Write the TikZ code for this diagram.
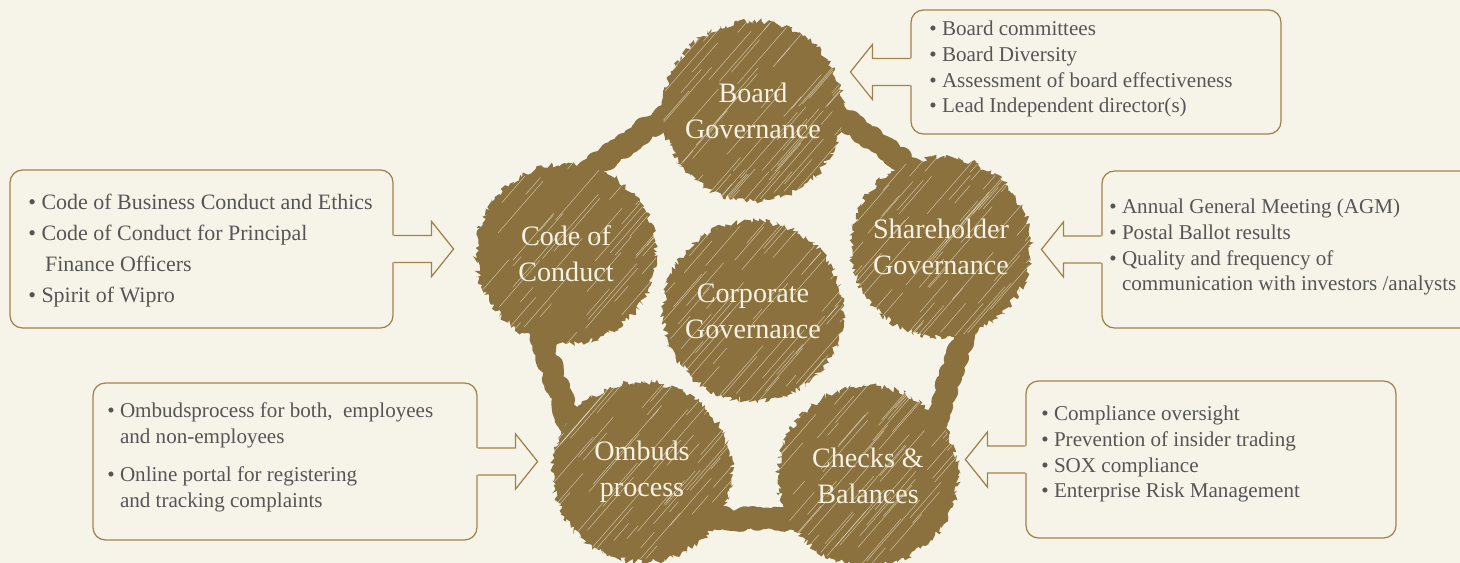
\documentclass[tikz,border=0pt]{standalone}
\usepackage{fontspec}
\setmainfont{Liberation Serif}
\usetikzlibrary{decorations.pathmorphing,calc}

\definecolor{bgcream}{RGB}{246,244,232}
\definecolor{hubbrown}{RGB}{139,113,62}
\definecolor{streakcol}{RGB}{232,222,198}
\definecolor{boxline}{RGB}{160,130,75}
\definecolor{txtgray}{RGB}{85,85,85}
\definecolor{labelcream}{RGB}{248,243,228}

% hanging indent for wrapped bullet lines
\newcommand{\hang}{\phantom{•\ }}
% hollow block arrow leaving a box: #1 anchor, #2 direction (1 right, -1 left)
\newcommand{\boxarrow}[2]{%
  \begin{scope}[shift={(#1)}, xscale=#2]
    \fill[bgcream] (-1.5,-13.5) -- (38,-13.5) -- (38,-27.5) -- (60,0) -- (38,27.5) -- (38,13.5) -- (-1.5,13.5) -- cycle;
    \draw[arrowline] (0,-13.5) -- (38,-13.5) -- (38,-27.5) -- (60,0) -- (38,27.5) -- (38,13.5) -- (0,13.5);
  \end{scope}}

\begin{document}
\begin{tikzpicture}[
    x=0.02cm, y=-0.02cm,
    hub/.style={circle, fill=hubbrown, minimum size=3.6cm, inner sep=0pt, align=center,
      text=labelcream, font=\fontsize{16}{20.4}\selectfont,
      decorate, decoration={random steps, segment length=1.2pt, amplitude=1.8pt}},
    band/.style={draw=hubbrown, line width=11.5pt, line join=round,
      decorate, decoration={random steps, segment length=1.5pt, amplitude=1.8pt}},
    streak/.style={draw=streakcol, line width=0.3pt, opacity=0.7},
    listbox/.style={draw=boxline, line width=0.7pt, rounded corners=7pt, inner sep=0pt},
    listtxt/.style={anchor=north west, align=left, inner sep=0pt, text=txtgray,
      font=\fontsize{12}{14.7}\selectfont},
    arrowline/.style={draw=boxline, line width=0.7pt, line join=miter}
  ]

  % --- canvas ---
  \useasboundingbox (0,0) rectangle (1460,563);
  \fill[bgcream] (0,0) rectangle (1460,563);

  % --- pentagon ring behind the hubs ---
  \coordinate (ring) at (752,310);
  \foreach \a/\n in {-90/v1, -18/v2, 54/v3, 126/v4, 198/v5} {
    \coordinate (\n) at ($(ring)+(\a:258)$);
  }
  \draw[band] (v1) -- (v2) -- (v3) -- (v4) -- (v5) -- cycle;

  % --- hubs ---
  \node[hub] (board)  at (753,111) {Board\\Governance};
  \node[hub] (share)  at (941,247) {Shareholder\\Governance};
  \node[hub] (checks) at (868,476) {Checks \&\\Balances};
  \node[hub] (ombuds) at (642,472) {Ombuds\\process};
  \node[hub] (code)   at (566,254) {Code of\\Conduct};
  \node[hub] (corp)   at (753,311) {Corporate\\Governance};

  % --- chalk streaks over the hubs ---
  \begin{scope}
    \clip (board.center) circle (90) (share.center) circle (90) (checks.center) circle (90)
          (ombuds.center) circle (90) (code.center) circle (90) (corp.center) circle (90);
    \pgfmathsetseed{42}
    \foreach \i in {1,...,560} {
      \pgfmathsetmacro{\sx}{470+580*rnd}
      \pgfmathsetmacro{\sy}{15+560*rnd}
      \pgfmathsetmacro{\sl}{8+50*rnd}
      \draw[streak] (\sx,\sy) -- ++(\sl,-1.15*\sl);
    }
  \end{scope}

  % --- list boxes ---
  \node[listbox, minimum width=7.4cm, minimum height=2.48cm] (boardbox) at (1096,72) {};
  \node[listbox, minimum width=7.66cm, minimum height=3.16cm] (codebox) at (201.5,249) {};
  \node[listbox, minimum width=7.56cm, minimum height=3.14cm] (sharebox) at (1291,249.5) {};
  \node[listbox, minimum width=7.68cm, minimum height=3.14cm] (ombbox) at (285,461.5) {};
  \node[listbox, minimum width=7.4cm, minimum height=3.14cm] (checkbox) at (1211,459.5) {};

  \node[listtxt] (boardtxt) at (929,20.5) {• Board committees\\• Board Diversity\\• Assessment of board effectiveness\\• Lead Independent director(s)};
  \node[listtxt, font=\fontsize{12.5}{17.6}\selectfont] (codetxt) at (28,194) {• Code of Business Conduct and Ethics\\• Code of Conduct for Principal\\\hang\hspace{2pt}Finance Officers\\• Spirit of Wipro};
  \node[listtxt] (sharetxt) at (1109,198.5) {• Annual General Meeting (AGM)\\• Postal Ballot results\\• Quality and frequency of\\\hang communication with investors /analysts};
  \node[listtxt] (ombtxt) at (107,402.5) {• Ombudsprocess for both,\ \ employees\\\hang and non-employees\\[7pt]• Online portal for registering\\\hang and tracking complaints};
  \node[listtxt] (checktxt) at (1041,405.5) {• Compliance oversight\\• Prevention of insider trading\\• SOX compliance\\• Enterprise Risk Management};

  % --- block arrows into the hubs ---
  \boxarrow{boardbox.west}{-1}
  \boxarrow{codebox.east}{1}
  \boxarrow{sharebox.west}{-1}
  \boxarrow{ombbox.east}{1}
  \boxarrow{checkbox.west}{-1}

\end{tikzpicture}
\end{document}
